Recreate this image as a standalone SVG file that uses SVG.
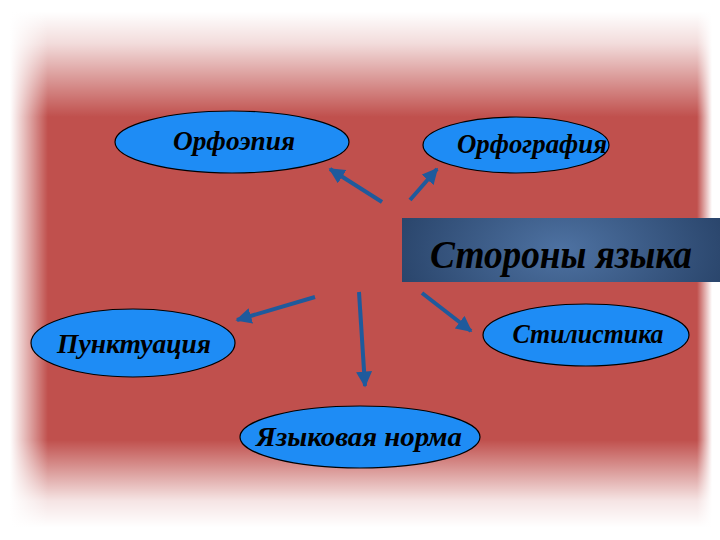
<svg xmlns="http://www.w3.org/2000/svg" width="720" height="540" viewBox="0 0 720 540">
<defs>
<linearGradient id="gTop" x1="0" y1="0" x2="0" y2="1">
<stop offset="0" stop-color="#fff" stop-opacity="1"/>
<stop offset="0.3" stop-color="#fff" stop-opacity="0.8"/>
<stop offset="1" stop-color="#fff" stop-opacity="0"/>
</linearGradient>
<linearGradient id="gBot" x1="0" y1="1" x2="0" y2="0">
<stop offset="0" stop-color="#fff" stop-opacity="1"/>
<stop offset="0.3" stop-color="#fff" stop-opacity="0.85"/>
<stop offset="1" stop-color="#fff" stop-opacity="0"/>
</linearGradient>
<linearGradient id="gLeft" x1="0" y1="0" x2="1" y2="0">
<stop offset="0" stop-color="#fff" stop-opacity="1"/>
<stop offset="1" stop-color="#fff" stop-opacity="0"/>
</linearGradient>
<linearGradient id="gRight" x1="1" y1="0" x2="0" y2="0">
<stop offset="0" stop-color="#fff" stop-opacity="1"/>
<stop offset="1" stop-color="#fff" stop-opacity="0"/>
</linearGradient>
<radialGradient id="gBox" cx="0.5" cy="0.5" r="0.6" gradientTransform="translate(0.5 0.5) scale(1 3) translate(-0.5 -0.5)">
<stop offset="0" stop-color="#4E72A2"/>
<stop offset="1" stop-color="#253F64"/>
</radialGradient>
<marker id="ah" viewBox="0 0 10 10" refX="9" refY="5" markerWidth="4" markerHeight="4" orient="auto" markerUnits="strokeWidth">
<path d="M0,0 L10,5 L0,10 z" fill="#1F5A9C"/>
</marker>
<style>
.node ellipse{fill:#1E8CF5;stroke:#000;stroke-width:1.2}
.node text{font-family:"Liberation Serif","DejaVu Serif",serif;font-style:italic;font-weight:bold;font-size:28px;fill:#000;text-anchor:middle}
.conn line{stroke:#1F5A9C;stroke-width:4;marker-end:url(#ah)}
</style>
</defs>
<rect width="720" height="540" fill="#fff"/>
<rect x="10" y="12" width="702" height="515" fill="#C0504D"/>
<rect x="10" y="12" width="702" height="105" fill="url(#gTop)"/>
<rect x="10" y="440" width="702" height="87" fill="url(#gBot)"/>
<rect x="10" y="12" width="38" height="515" fill="url(#gLeft)"/>
<rect x="697" y="12" width="15" height="515" fill="url(#gRight)"/>
<g id="center" class="node">
<rect x="402" y="218" width="320" height="64" fill="url(#gBox)"/>
<text x="561" y="268" style="font-size:40px" textLength="262" lengthAdjust="spacingAndGlyphs">Стороны языка</text>
</g>
<g id="n1" class="node">
<ellipse cx="232" cy="142" rx="117" ry="31"/>
<text x="234" y="150" textLength="122" lengthAdjust="spacingAndGlyphs">Орфоэпия</text>
</g>
<g id="n2" class="node">
<ellipse cx="516" cy="145" rx="93" ry="28"/>
<text x="532" y="153" textLength="150" lengthAdjust="spacingAndGlyphs">Орфография</text>
</g>
<g id="n3" class="node">
<ellipse cx="133" cy="343" rx="102" ry="34"/>
<text x="134" y="353" textLength="154" lengthAdjust="spacingAndGlyphs">Пунктуация</text>
</g>
<g id="n4" class="node">
<ellipse cx="360" cy="437" rx="120" ry="31"/>
<text x="359" y="446" textLength="206" lengthAdjust="spacingAndGlyphs">Языковая норма</text>
</g>
<g id="n5" class="node">
<ellipse cx="586" cy="335" rx="103" ry="31"/>
<text x="588" y="343" textLength="151" lengthAdjust="spacingAndGlyphs">Стилистика</text>
</g>
<g id="connectors" class="conn">
<line x1="382" y1="202" x2="330" y2="169"/>
<line x1="410" y1="200" x2="437" y2="169"/>
<line x1="315" y1="297" x2="237" y2="320"/>
<line x1="359" y1="292" x2="365" y2="386"/>
<line x1="422" y1="293" x2="471" y2="331"/>
</g>
</svg>
